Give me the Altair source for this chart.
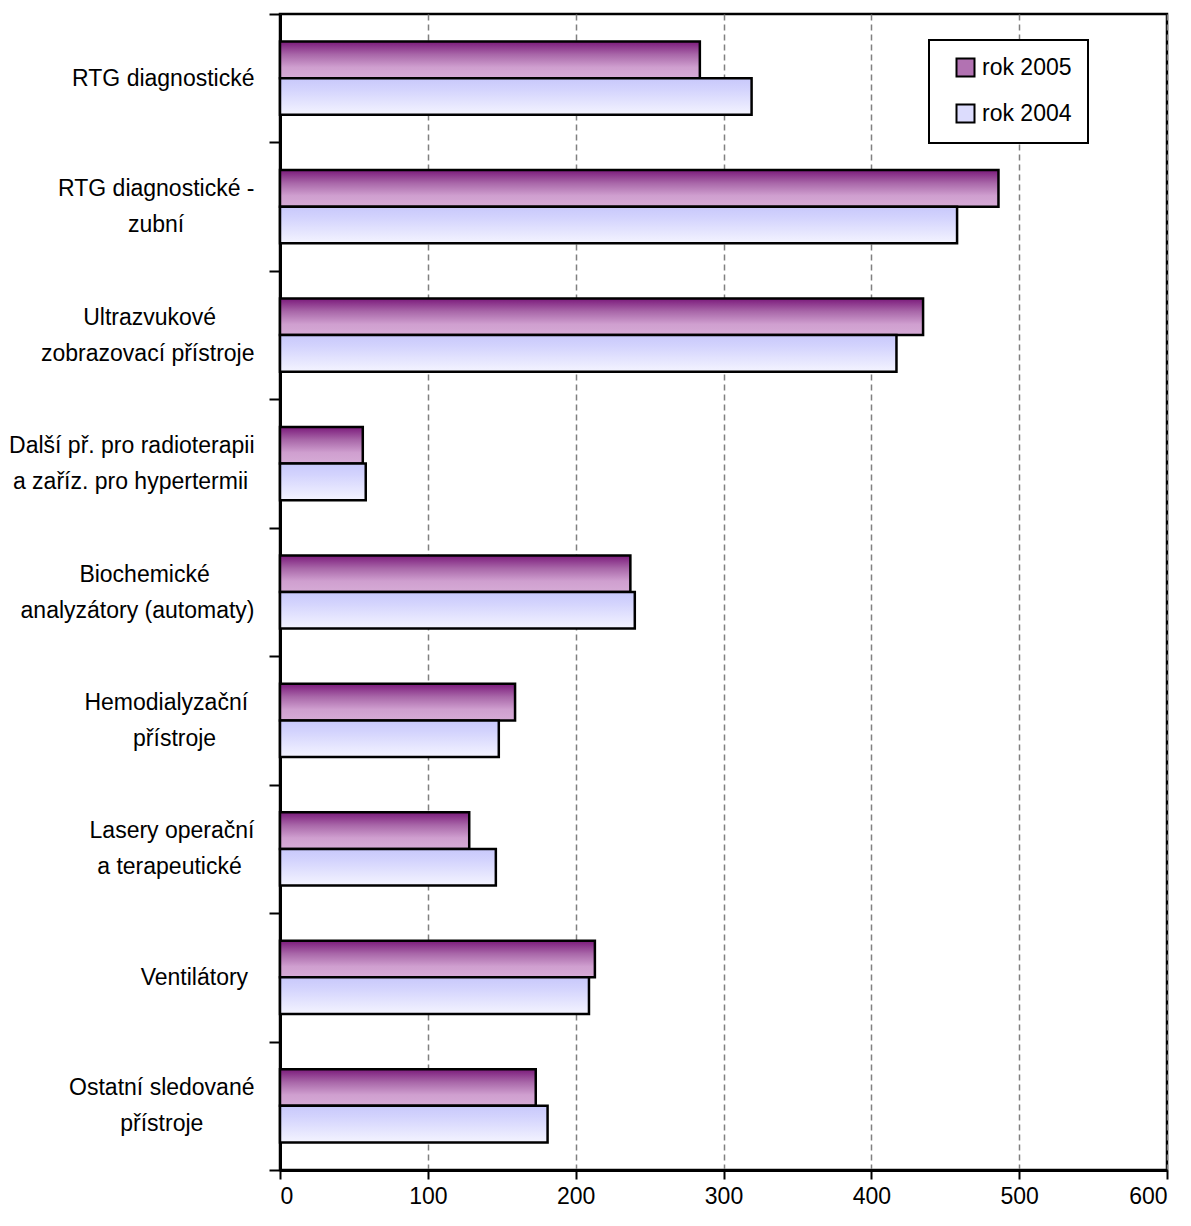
import altair as alt
import pandas as pd

# ---- data ----
categories = [
    "RTG diagnostické",
    "RTG diagnostické -\nzubní",
    "Ultrazvukové\nzobrazovací přístroje",
    "Další př. pro radioterapii\na zaříz. pro hypertermii",
    "Biochemické\nanalyzátory (automaty)",
    "Hemodialyzační\npřístroje",
    "Lasery operační\na terapeutické",
    "Ventilátory",
    "Ostatní sledované\npřístroje",
]
v2005 = [284, 486, 435, 56, 237, 159, 128, 213, 173]
v2004 = [319, 458, 417, 58, 240, 148, 146, 209, 181]
series = ["rok 2005", "rok 2004"]
x_ticks = [0, 100, 200, 300, 400, 500, 600]

# ---- label layout: non-breaking spaces that centre the lines of a right-aligned block ----
line_pad = [(0,), (0, 11), (6, 0), (0, 1), (7, 0), (1, 6), (0, 2), (1,), (0, 8)]
NB = "\u00a0"
END = "\u200b"  # keeps the padding from being trimmed


def pad_label(text, pads):
    lines = text.split("\n")
    return "\n".join(line + (NB * p + END if p else "") for line, p in zip(lines, pads))


labels = [pad_label(c, p) for c, p in zip(categories, line_pad)]

rows = []
for lab, a, b in zip(labels, v2005, v2004):
    rows.append({"cat": lab, "series": series[0], "value": a})
    rows.append({"cat": lab, "series": series[1], "value": b})
df = pd.DataFrame(rows)

FONT = "Liberation Sans, Arial, sans-serif"
FS = 23
LH = 36

grad05 = {
    "gradient": "linear", "x1": 0, "y1": 0, "x2": 0, "y2": 1,
    "stops": [
        {"offset": 0, "color": "#7b1a7b"},
        {"offset": 0.35, "color": "#a866a8"},
        {"offset": 0.7, "color": "#cf9fcf"},
        {"offset": 1, "color": "#d6abd6"},
    ],
}
grad04 = {
    "gradient": "linear", "x1": 0, "y1": 0, "x2": 0, "y2": 1,
    "stops": [
        {"offset": 0, "color": "#c8c8fb"},
        {"offset": 0.3, "color": "#d3d3fd"},
        {"offset": 1, "color": "#f4f4ff"},
    ],
}

y_enc = alt.Y(
    "cat:N",
    sort=labels,
    scale=alt.Scale(paddingInner=0, paddingOuter=0),
    axis=alt.Axis(
        title=None,
        labelExpr="split(datum.label, '\\n')",
        labelFont=FONT,
        labelFontSize=FS,
        labelColor="black",
        labelLineHeight=LH,
        labelPadding=15,
        labelAlign="right",
        labelBaseline="middle",
        labelOffset={
            "condition": {"test": "indexof(datum.label, '\\n') >= 0", "value": -LH / 2},
            "value": 0,
        },
        labelLimit=400,
        tickSize=11,
        tickWidth=2,
        tickColor="black",
        tickBand="extent",
        domainColor="black",
        domainWidth=3,
        minExtent=271,
        maxExtent=271,
    ),
)

x_enc = alt.X(
    "value:Q",
    scale=alt.Scale(domain=[0, 600], nice=False),
    axis=alt.Axis(
        title=None,
        values=x_ticks,
        grid=True,
        gridDash=[6, 4],
        gridColor="#808080",
        gridWidth=1.5,
        tickSize=9,
        tickWidth=2,
        tickColor="black",
        domainColor="black",
        domainWidth=3,
        labelFont=FONT,
        labelFontSize=FS,
        labelColor="black",
        labelPadding=6,
    ),
)

bars = alt.Chart(df).mark_bar(stroke="black", strokeWidth=2.5).encode(
    x=x_enc,
    y=y_enc,
    yOffset=alt.YOffset(
        "series:N", sort=series, scale=alt.Scale(paddingInner=0, paddingOuter=0.754)
    ),
    fill=alt.condition(
        alt.datum.series == series[0], alt.value(grad05), alt.value(grad04)
    ),
)

legend_layer = alt.Chart(df).mark_square(opacity=0).encode(
    x=alt.X("value:Q"),
    y=alt.Y("cat:N", sort=labels),
    fill=alt.Fill(
        "series:N",
        sort=series,
        scale=alt.Scale(domain=series, range=["#b272b2", "#dcdcfd"]),
        legend=alt.Legend(
            title=None,
            orient="none",
            legendX=649,
            legendY=26,
            fillColor="white",
            strokeColor="black",
            padding=16,
            rowPadding=19,
            symbolType="square",
            symbolSize=324,
            symbolOpacity=1,
            symbolStrokeColor="black",
            symbolStrokeWidth=2,
            symbolOffset=9,
            labelFont=FONT,
            labelFontSize=FS,
            labelColor="black",
            labelOffset=5,
        ),
    ),
)

chart = (
    alt.layer(bars, legend_layer)
    .properties(
        width=887,
        height=1156,
        padding={"left": 0, "top": -5, "right": 15, "bottom": 5},
    )
    .configure_view(stroke="black", strokeWidth=2.5)
    .configure_legend(strokeWidth=2)
)

chart.save("out.html", embed_options={"renderer": "svg", "actions": False})
